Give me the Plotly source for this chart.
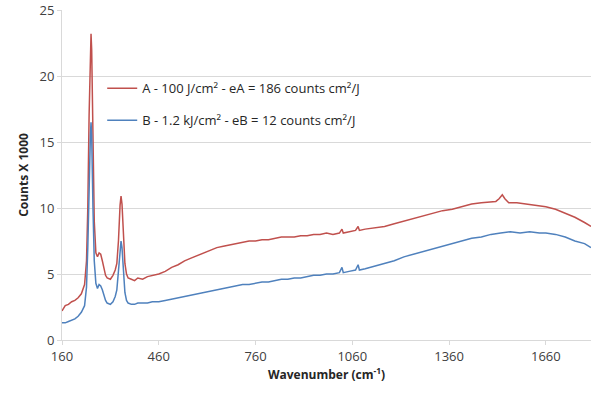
import plotly.graph_objects as go

x_a = [160,170,180,190,200,210,220,230,236,240,244,248,250,252,256,260,265,270,275,280,285,290,295,300,310,318,325,330,335,340,343,346,350,355,360,365,375,385,395,410,425,440,460,480,500,520,540,560,580,600,620,640,660,680,700,720,740,760,780,800,820,840,860,880,900,920,940,960,980,1000,1020,1028,1032,1050,1070,1078,1082,1100,1130,1160,1190,1220,1250,1280,1310,1340,1370,1400,1430,1460,1490,1505,1515,1525,1533,1545,1570,1600,1630,1660,1690,1720,1750,1780,1800]
y_a = [2.2,2.6,2.7,2.9,3.0,3.2,3.5,4.2,6,10,17,22,23.2,22,15,9,6.6,6.3,6.6,6.5,6.0,5.4,4.9,4.7,4.6,4.9,5.3,5.8,7.5,10.2,10.9,10.3,8,5.8,5.0,4.7,4.6,4.5,4.7,4.6,4.8,4.9,5.0,5.2,5.5,5.7,6.0,6.2,6.4,6.6,6.8,7.0,7.1,7.2,7.3,7.4,7.5,7.5,7.6,7.6,7.7,7.8,7.8,7.8,7.9,7.9,8.0,8.0,8.1,8.0,8.1,8.4,8.1,8.2,8.3,8.6,8.3,8.4,8.5,8.6,8.8,9.0,9.2,9.4,9.6,9.8,9.9,10.1,10.3,10.4,10.5,10.5,10.7,11.0,10.7,10.4,10.4,10.3,10.2,10.1,9.9,9.6,9.3,8.9,8.6]

x_b = [160,170,180,190,200,210,220,230,236,240,244,248,250,252,256,260,265,270,275,280,285,290,295,300,310,318,325,330,335,340,343,346,350,355,360,365,375,385,395,410,425,440,460,480,500,520,540,560,580,600,620,640,660,680,700,720,740,760,780,800,820,840,860,880,900,920,940,960,980,1000,1020,1028,1032,1050,1070,1078,1082,1100,1130,1160,1190,1220,1250,1280,1310,1340,1370,1400,1430,1460,1490,1520,1550,1580,1610,1640,1660,1690,1720,1750,1780,1800]
y_b = [1.3,1.3,1.4,1.5,1.6,1.8,2.1,2.6,4,7,12,15.5,16.5,15.5,10,6,4.3,3.9,4.2,4.1,3.8,3.4,3.0,2.8,2.7,2.9,3.3,3.8,5.2,7.0,7.5,7.0,5.5,3.6,3.0,2.8,2.7,2.7,2.8,2.8,2.8,2.9,2.9,3.0,3.1,3.2,3.3,3.4,3.5,3.6,3.7,3.8,3.9,4.0,4.1,4.2,4.2,4.3,4.4,4.4,4.5,4.6,4.6,4.7,4.7,4.8,4.9,4.9,5.0,5.0,5.1,5.5,5.1,5.2,5.3,5.7,5.3,5.4,5.6,5.8,6.0,6.3,6.5,6.7,6.9,7.1,7.3,7.5,7.7,7.8,8.0,8.1,8.2,8.1,8.2,8.1,8.1,8.0,7.8,7.5,7.3,7.0]

name_a = "A - 100 J/cm² - eA = 186 counts cm²/J"
name_b = "B - 1.2 kJ/cm² - eB = 12 counts cm²/J"
x_ticks = [160, 460, 760, 1060, 1360, 1660]
y_ticks = [0, 5, 10, 15, 20, 25]

fig = go.Figure()
fig.add_trace(go.Scatter(x=x_a, y=y_a, mode="lines", name=name_a, legendgroup="a",
                         line=dict(color="#C0504D", width=1.5)))
fig.add_trace(go.Scatter(x=x_b, y=y_b, mode="lines", name=name_b, legendgroup="b",
                         line=dict(color="#4F81BD", width=1.5)))

font = "Open Sans, Noto Sans, sans-serif"
fig.update_layout(
    width=592, height=394,
    margin=dict(l=62, r=1, t=10, b=54),
    paper_bgcolor="white", plot_bgcolor="white",
    font=dict(family=font, size=13, color="#404040"),
    showlegend=True,
    legend=dict(x=0.076, y=0.808, xanchor="left", yanchor="top",
                bgcolor="rgba(0,0,0,0)", tracegroupgap=12,
                font=dict(size=13, color="#262626")),
    xaxis=dict(range=[160, 1800], tickvals=x_ticks, ticks="outside", ticklen=4,
               tickcolor="#D9D9D9", showline=True, linecolor="#D9D9D9",
               showgrid=False, zeroline=False, tickfont=dict(size=13, color="#404040"),
               title=dict(text="<b>Wavenumber (cm<sup>-1</sup>)</b>", font=dict(size=12, color="#262626"), standoff=6)),
    yaxis=dict(range=[0, 25], tickvals=y_ticks, showline=True, linecolor="#D9D9D9",
               ticks="outside", ticklen=4, tickcolor="#D9D9D9",
               showgrid=True, gridcolor="#D9D9D9", zeroline=False,
               tickfont=dict(size=13, color="#404040"),
               title=dict(text="<b>Counts X 1000</b>", font=dict(size=12, color="#262626"), standoff=8)),
)
fig.write_html("out.html")
